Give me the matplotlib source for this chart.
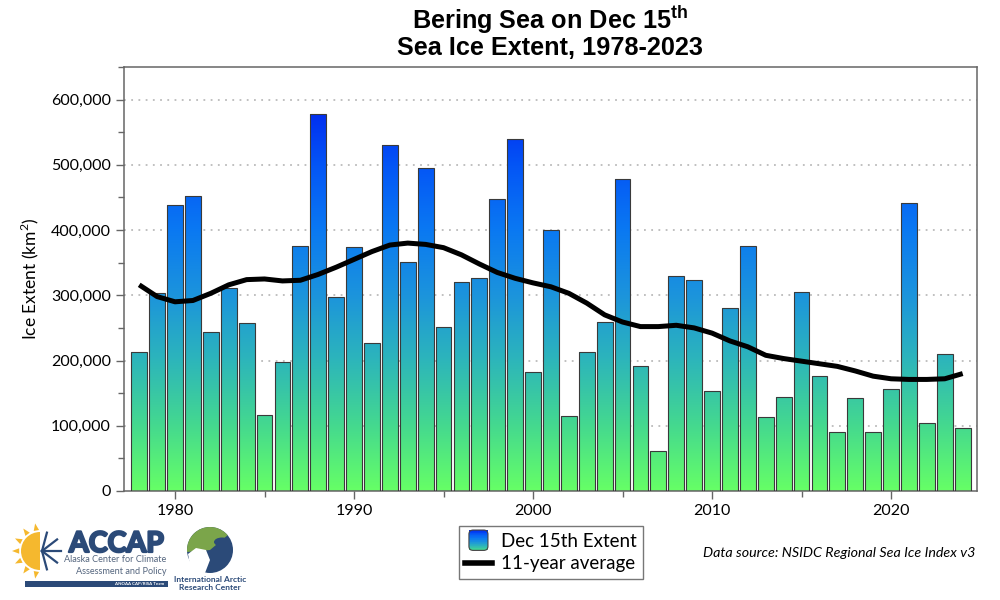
import numpy as np
import matplotlib
matplotlib.use("Agg")
import matplotlib.pyplot as plt
import matplotlib.patheffects as pe
from matplotlib.colors import LinearSegmentedColormap
from matplotlib.patches import Rectangle, FancyBboxPatch, Wedge, Ellipse, Polygon, Circle
from matplotlib.path import Path
from matplotlib.legend_handler import HandlerBase
from matplotlib.lines import Line2D
from matplotlib.ticker import FuncFormatter, MultipleLocator

# ---------------- data ----------------
years = list(range(1978, 2025))
extent = [213, 304, 439, 452, 243, 311, 258, 116, 198, 375,
          578, 298, 374, 227, 530, 351, 495, 252, 320, 326,
          448, 540, 183, 400, 115, 213, 259, 478, 191, 62,
          330, 323, 153, 280, 376, 113, 144, 305, 176, 91,
          143, 91, 157, 441, 104, 210, 97]
extent = [v * 1000 for v in extent]
avg11 = [316, 298, 290, 292, 303, 316, 324, 325, 322, 323,
         332, 343, 355, 367, 377, 380, 378, 373, 362, 348,
         335, 326, 319, 313, 303, 288, 270, 259, 252, 252,
         254, 250, 242, 230, 221, 208, 203, 199, 195, 191,
         184, 176, 172, 171, 171, 172, 180]
avg11 = [v * 1000 for v in avg11]
yticks = [0, 100000, 200000, 300000, 400000, 500000, 600000]
xticks = [1980, 1990, 2000, 2010, 2020]

title1 = "Bering Sea on Dec 15$^{\\mathregular{th}}$"
title2 = "Sea Ice Extent, 1978-2023"
ylabel = "Ice Extent (km$^{\\mathregular{2}}$)"
legend_labels = ["Dec 15th Extent", "11-year average"]
source = "Data source: NSIDC Regional Sea Ice Index v3"

# ---------------- style ----------------
plt.rcParams['font.family'] = ['Lato', 'DejaVu Sans']
cmap = LinearSegmentedColormap.from_list(
    "ice", [(0.0, "#66FF66"), (0.17, "#44D890"), (0.34, "#2CB4BC"),
            (0.50, "#1C94DC"), (0.67, "#0A78F2"), (0.83, "#0456F6"),
            (1.0, "#0024EE")])
GRAD_TOP = 600000

fig = plt.figure(figsize=(10, 6), dpi=100)
ax = fig.add_axes([0.124, 0.1817, 0.853, 0.7067])
xmin, xmax = 1977.15, 2024.8
ymax = 650000

bw = 0.88
verts, codes = [], []
for x, v in zip(years, extent):
    x0, x1 = x - bw / 2, x + bw / 2
    verts += [(x0, 0), (x1, 0), (x1, v), (x0, v), (x0, 0)]
    codes += [Path.MOVETO, Path.LINETO, Path.LINETO, Path.LINETO, Path.CLOSEPOLY]
clip = Path(verts, codes)
grad = np.linspace(0, 1, 512).reshape(-1, 1)
im = ax.imshow(grad, cmap=cmap, origin='lower', aspect='auto',
               extent=[xmin, xmax, 0, GRAD_TOP], zorder=2, interpolation='bilinear')
im.set_clip_path(clip, transform=ax.transData)
ax.set_xlim(xmin, xmax)
ax.set_ylim(0, ymax)
ax.bar(years, extent, width=bw, facecolor='none', edgecolor='#3a3a3a',
       linewidth=0.8, zorder=3)

ax.plot(years, avg11, color='black', linewidth=3.6, zorder=4,
        solid_joinstyle='round', solid_capstyle='butt')

for yv in yticks[1:]:
    ax.axhline(yv, color='#bbbbbb', linestyle=(0, (1, 3)), linewidth=1.3, zorder=1)

ax.set_yticks(yticks)
ax.yaxis.set_minor_locator(MultipleLocator(50000))
ax.yaxis.set_major_formatter(FuncFormatter(lambda v, p: f"{int(v):,}"))
ax.set_xticks(xticks)
ax.xaxis.set_minor_locator(MultipleLocator(5))
ax.tick_params(axis='both', which='major', direction='out', length=6,
               width=1, color='#666666', labelsize=11.5, labelcolor='black')
ax.tick_params(axis='both', which='minor', direction='out', length=4,
               width=1, color='#666666')
for s in ax.spines.values():
    s.set_color('#666666')
    s.set_linewidth(1.1)

ax.set_ylabel(ylabel, fontsize=12.5, labelpad=7)

tfam = ['Liberation Sans', 'DejaVu Sans']
fig.text(0.55, 1 - 29 / 600, title1, ha='center', va='baseline', fontsize=18.2,
         fontweight='bold', family=tfam)
fig.text(0.55, 1 - 55 / 600, title2, ha='center', va='baseline', fontsize=18.2,
         fontweight='bold', family=tfam)

# legend with gradient patch
class GradHandler(HandlerBase):
    def create_artists(self, legend, orig_handle, xdescent, ydescent,
                       width, height, fontsize, trans):
        w = height * 1.45
        h = height * 1.55
        x0 = -xdescent + (width - w) / 2
        y0 = -ydescent + (height - h) / 2
        arts = []
        n = 30
        for i in range(n):
            r = Rectangle((x0, y0 + i * h / n), w, h / n + 0.3,
                          facecolor=cmap(0.15 + 0.85 * (i + 0.5) / n),
                          edgecolor='none', transform=trans)
            arts.append(r)
        b = FancyBboxPatch((x0, y0), w, h, boxstyle="round,pad=0,rounding_size=3",
                           facecolor='none', edgecolor='#444444', linewidth=0.8,
                           transform=trans)
        arts.append(b)
        return arts

grad_handle = Rectangle((0, 0), 1, 1)
line_handle = Line2D([], [], color='black', linewidth=4)
leg = fig.legend([grad_handle, line_handle], legend_labels,
                 handler_map={Rectangle: GradHandler()},
                 loc='center', bbox_to_anchor=(0.551, 0.079),
                 fontsize=13.5, frameon=True, fancybox=False,
                 edgecolor='#555555', handlelength=1.4, handletextpad=0.5,
                 borderpad=0.35, labelspacing=0.3, borderaxespad=0)
leg.get_frame().set_linewidth(1.0)

fig.text(0.975, 0.078, source, ha='right', va='center', fontsize=10.3,
         style='italic')

# ----- logos (approximation) -----
la = fig.add_axes([0.0, 0.0, 0.26, 0.15])
la.set_xlim(0, 260)
la.set_ylim(90, 0)
la.axis('off')
navy = '#2B4A78'
cx, cy = 40, 41
la.add_patch(Wedge((cx, cy), 19, 90, 270, facecolor='#F5B82E', edgecolor='none'))
for ang in np.linspace(100, 260, 7):
    a = np.deg2rad(ang)
    la.add_patch(Polygon([(cx + 21 * np.cos(a - 0.13), cy - 21 * np.sin(a - 0.13)),
                          (cx + 28 * np.cos(a), cy - 28 * np.sin(a)),
                          (cx + 21 * np.cos(a + 0.13), cy - 21 * np.sin(a + 0.13))],
                         facecolor='#F5B82E', edgecolor='none'))
for ang in np.linspace(-75, 75, 5):
    a = np.deg2rad(ang)
    la.plot([cx + 2, cx + 2 + 19 * np.cos(a)], [cy, cy - 19 * np.sin(a)],
            color=navy, lw=1.6)
la.text(69, 34, "ACCAP", fontsize=20.5, fontweight='bold', color=navy,
        va='center', ha='left', family=['Lato', 'DejaVu Sans'],
        path_effects=[pe.withStroke(linewidth=1.6, foreground=navy)])
la.text(115, 50, "Alaska Center for Climate", fontsize=6.6, color='#55667f',
        ha='center', va='center')
la.text(121, 61, "Assessment and Policy", fontsize=6.6, color='#55667f',
        ha='center', va='center')
la.add_patch(Rectangle((25, 71), 143, 6, facecolor=navy, edgecolor='none'))
la.text(164, 74.2, "A NOAA CAP/RISA Team", fontsize=3.2, color='white',
        ha='right', va='center', fontweight='bold')
la.add_patch(Circle((210, 40), 23, facecolor=navy, edgecolor='none'))
la.add_patch(Wedge((210, 40), 23, 175, 320, facecolor='#7BA54A', edgecolor='none'))
la.add_patch(Polygon([(188, 44), (196, 38), (206, 40), (210, 50), (205, 63),
                      (196, 62), (190, 55)], facecolor='white', edgecolor='none'))
la.add_patch(Ellipse((222, 32), 16, 9, facecolor=navy, edgecolor='none'))
la.text(210, 69, "International Arctic", fontsize=6.0, color=navy,
        ha='center', va='center', fontweight='bold')
la.text(210, 77, "Research Center", fontsize=6.0, color=navy,
        ha='center', va='center', fontweight='bold')

fig.savefig("out.png", dpi=100)
